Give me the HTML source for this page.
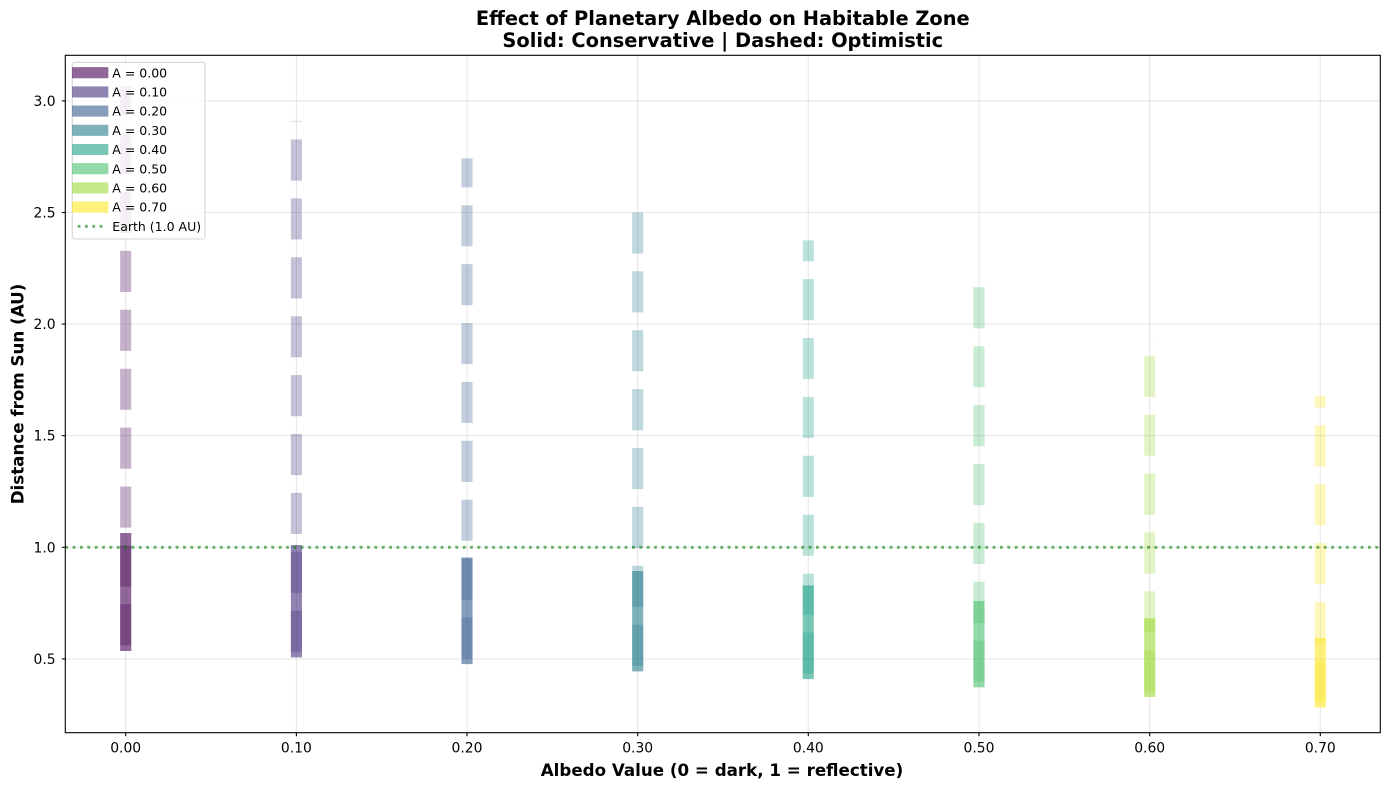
<!DOCTYPE html>
<html><head><meta charset="utf-8"><style>
html,body{margin:0;padding:0;background:#fff;}
svg{display:block;font-family:"DejaVu Sans","Liberation Sans",sans-serif;}
</style></head><body>
<svg width="1389" height="790" viewBox="0 0 1389 790" xmlns="http://www.w3.org/2000/svg">
<rect x="0" y="0" width="1389" height="790" fill="#ffffff"/>
<!-- grid -->
<g stroke="#b0b0b0" stroke-opacity="0.3" stroke-width="1.1">
<line x1="125.7" y1="55.3" x2="125.7" y2="732.7"/>
<line x1="296.4" y1="55.3" x2="296.4" y2="732.7"/>
<line x1="467.0" y1="55.3" x2="467.0" y2="732.7"/>
<line x1="637.7" y1="55.3" x2="637.7" y2="732.7"/>
<line x1="808.3" y1="55.3" x2="808.3" y2="732.7"/>
<line x1="979.0" y1="55.3" x2="979.0" y2="732.7"/>
<line x1="1149.7" y1="55.3" x2="1149.7" y2="732.7"/>
<line x1="1320.3" y1="55.3" x2="1320.3" y2="732.7"/>
<line x1="65.3" y1="658.9" x2="1380.3" y2="658.9"/>
<line x1="65.3" y1="547.3" x2="1380.3" y2="547.3"/>
<line x1="65.3" y1="435.7" x2="1380.3" y2="435.7"/>
<line x1="65.3" y1="324.1" x2="1380.3" y2="324.1"/>
<line x1="65.3" y1="212.5" x2="1380.3" y2="212.5"/>
<line x1="65.3" y1="100.9" x2="1380.3" y2="100.9"/>
</g>
<!-- solid (conservative) -->
<g stroke-width="11.1" stroke-linecap="square" stroke-opacity="0.6">
<line x1="125.7" y1="645.4" x2="125.7" y2="538.6" stroke="#440154"/>
<line x1="296.4" y1="651.8" x2="296.4" y2="550.5" stroke="#46327e"/>
<line x1="467.0" y1="658.6" x2="467.0" y2="563.1" stroke="#365c8d"/>
<line x1="637.7" y1="665.8" x2="637.7" y2="576.5" stroke="#277f8e"/>
<line x1="808.3" y1="673.6" x2="808.3" y2="590.9" stroke="#1fa187"/>
<line x1="979.0" y1="681.8" x2="979.0" y2="606.5" stroke="#4ac16d"/>
<line x1="1149.7" y1="691.4" x2="1149.7" y2="623.8" stroke="#a0da39"/>
<line x1="1320.3" y1="702.0" x2="1320.3" y2="643.5" stroke="#fde725"/>
</g>
<!-- dashed (optimistic) -->
<g stroke-width="11.1" stroke-linecap="butt" stroke-opacity="0.3" stroke-dasharray="41.1 17.8">
<line x1="125.7" y1="645.4" x2="125.7" y2="86.2" stroke="#440154"/>
<line x1="296.4" y1="651.8" x2="296.4" y2="121.3" stroke="#46327e"/>
<line x1="467.0" y1="658.6" x2="467.0" y2="158.4" stroke="#365c8d"/>
<line x1="637.7" y1="665.8" x2="637.7" y2="197.9" stroke="#277f8e"/>
<line x1="808.3" y1="673.6" x2="808.3" y2="240.4" stroke="#1fa187"/>
<line x1="979.0" y1="681.8" x2="979.0" y2="286.6" stroke="#4ac16d"/>
<line x1="1149.7" y1="691.4" x2="1149.7" y2="337.7" stroke="#a0da39"/>
<line x1="1320.3" y1="702.0" x2="1320.3" y2="395.7" stroke="#fde725"/>
</g>
<!-- Earth line -->
<line x1="65.3" y1="547.3" x2="1380.3" y2="547.3" stroke="#008000" stroke-opacity="0.6" stroke-width="2.78" stroke-dasharray="2.78 4.58"/>
<!-- spines -->
<rect x="65.3" y="55.3" width="1315" height="677.4" fill="none" stroke="#000" stroke-width="1.1"/>
<!-- ticks -->
<g stroke="#000" stroke-width="1.1">
<line x1="125.7" y1="732.7" x2="125.7" y2="736.2"/>
<line x1="296.4" y1="732.7" x2="296.4" y2="736.2"/>
<line x1="467.0" y1="732.7" x2="467.0" y2="736.2"/>
<line x1="637.7" y1="732.7" x2="637.7" y2="736.2"/>
<line x1="808.3" y1="732.7" x2="808.3" y2="736.2"/>
<line x1="979.0" y1="732.7" x2="979.0" y2="736.2"/>
<line x1="1149.7" y1="732.7" x2="1149.7" y2="736.2"/>
<line x1="1320.3" y1="732.7" x2="1320.3" y2="736.2"/>
<line x1="61.8" y1="658.9" x2="65.3" y2="658.9"/>
<line x1="61.8" y1="547.3" x2="65.3" y2="547.3"/>
<line x1="61.8" y1="435.7" x2="65.3" y2="435.7"/>
<line x1="61.8" y1="324.1" x2="65.3" y2="324.1"/>
<line x1="61.8" y1="212.5" x2="65.3" y2="212.5"/>
<line x1="61.8" y1="100.9" x2="65.3" y2="100.9"/>
</g>
<g font-size="13.9" fill="#000" text-anchor="middle">
<text x="125.7" y="752.5">0.00</text>
<text x="296.4" y="752.5">0.10</text>
<text x="467.0" y="752.5">0.20</text>
<text x="637.7" y="752.5">0.30</text>
<text x="808.3" y="752.5">0.40</text>
<text x="979.0" y="752.5">0.50</text>
<text x="1149.7" y="752.5">0.60</text>
<text x="1320.3" y="752.5">0.70</text>
</g>
<g font-size="13.9" fill="#000" text-anchor="end">
<text x="55.6" y="663.9">0.5</text>
<text x="55.6" y="552.3">1.0</text>
<text x="55.6" y="440.7">1.5</text>
<text x="55.6" y="329.1">2.0</text>
<text x="55.6" y="217.5">2.5</text>
<text x="55.6" y="105.9">3.0</text>
</g>
<!-- axis labels -->
<text x="722" y="776" font-size="16.7" font-weight="bold" text-anchor="middle">Albedo Value (0 = dark, 1 = reflective)</text>
<text transform="translate(23.5,394) rotate(-90)" font-size="16.7" font-weight="bold" text-anchor="middle">Distance from Sun (AU)</text>
<!-- title -->
<text x="722.8" y="25" font-size="19.4" font-weight="bold" text-anchor="middle">Effect of Planetary Albedo on Habitable Zone</text>
<text x="722.8" y="47" font-size="19.4" font-weight="bold" text-anchor="middle">Solid: Conservative | Dashed: Optimistic</text>
<!-- legend -->
<rect x="72.3" y="62.3" width="132.7" height="176.7" rx="2.5" ry="2.5" fill="#ffffff" fill-opacity="0.8" stroke="#cccccc" stroke-opacity="0.8" stroke-width="1.1"/>
<g stroke-width="11.1" stroke-linecap="square" stroke-opacity="0.6">
<line x1="77.6" y1="72.7" x2="102.8" y2="72.7" stroke="#440154"/>
<line x1="77.6" y1="91.9" x2="102.8" y2="91.9" stroke="#46327e"/>
<line x1="77.6" y1="111.1" x2="102.8" y2="111.1" stroke="#365c8d"/>
<line x1="77.6" y1="130.3" x2="102.8" y2="130.3" stroke="#277f8e"/>
<line x1="77.6" y1="149.5" x2="102.8" y2="149.5" stroke="#1fa187"/>
<line x1="77.6" y1="168.7" x2="102.8" y2="168.7" stroke="#4ac16d"/>
<line x1="77.6" y1="187.9" x2="102.8" y2="187.9" stroke="#a0da39"/>
<line x1="77.6" y1="207.1" x2="102.8" y2="207.1" stroke="#fde725"/>
</g>
<line x1="77.6" y1="226.3" x2="102.8" y2="226.3" stroke="#008000" stroke-opacity="0.6" stroke-width="2.78" stroke-dasharray="2.78 4.58"/>
<g font-size="12.5" fill="#000">
<text x="112.3" y="77.3">A = 0.00</text>
<text x="112.3" y="96.5">A = 0.10</text>
<text x="112.3" y="115.7">A = 0.20</text>
<text x="112.3" y="134.9">A = 0.30</text>
<text x="112.3" y="154.1">A = 0.40</text>
<text x="112.3" y="173.3">A = 0.50</text>
<text x="112.3" y="192.5">A = 0.60</text>
<text x="112.3" y="211.7">A = 0.70</text>
<text x="112.3" y="230.9">Earth (1.0 AU)</text>
</g>
</svg>
</body></html>
